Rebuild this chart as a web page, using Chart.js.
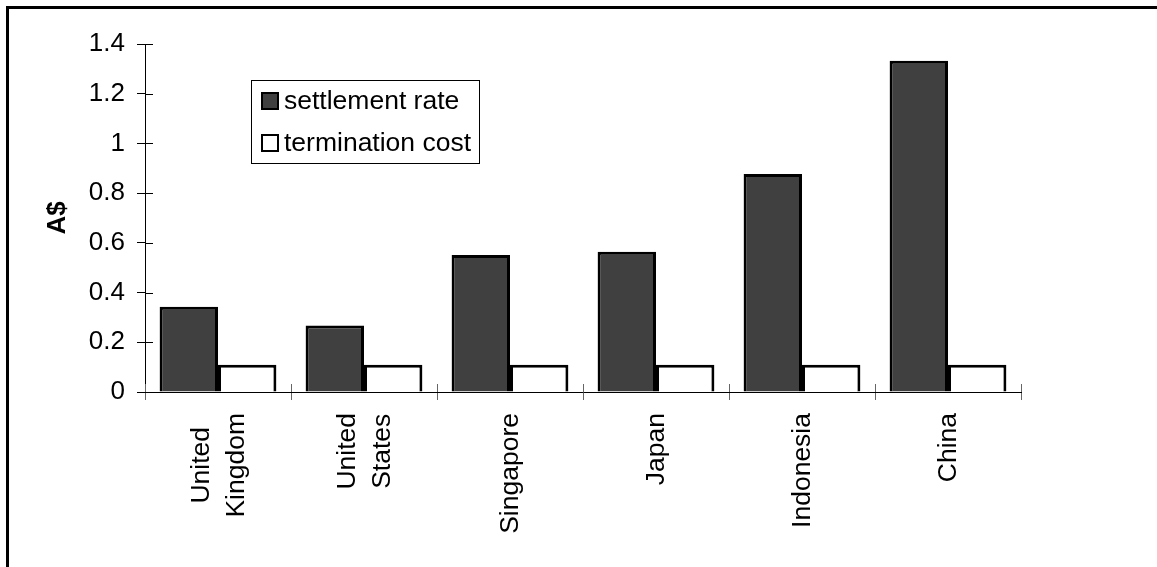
<!DOCTYPE html>
<html>
<head>
<meta charset="utf-8">
<script src="https://cdn.jsdelivr.net/npm/chart.js@4/dist/chart.umd.min.js"></script>
<style>
  body { margin: 0; background: #fff; }
  canvas { display: block; }
</style>
</head>
<body>
<canvas id="rateChart" width="1157" height="567"></canvas>
<script>
// chart data
const countries = [['United', 'Kingdom'], ['United', 'States'], 'Singapore', 'Japan', 'Indonesia', 'China'];
const settlementRate = [0.343, 0.268, 0.551, 0.564, 0.877, 1.333];
const terminationCost = [0.11, 0.11, 0.11, 0.11, 0.11, 0.11];
const seriesNames = ['settlement rate', 'termination cost'];
const yTicks = [0, 0.2, 0.4, 0.6, 0.8, 1, 1.2, 1.4];

const FONT = "'Liberation Sans', Arial, sans-serif";
const LABEL_SIZE = 26.5;

// ticks in the reference cross the axis line, chart.js only draws the outer half
const crossTicks = {
    id: 'crossTicks',
    afterDraw(chart) {
        const ctx = chart.ctx;
        const x = chart.scales.x, y = chart.scales.y;
        ctx.save();
        ctx.lineWidth = 1;
        ctx.strokeStyle = '#000';
        y.ticks.forEach(t => {
            const py = Math.round(y.getPixelForValue(t.value)) + 0.5;
            ctx.beginPath();
            ctx.moveTo(y.right, py);
            ctx.lineTo(y.right + 8, py);
            ctx.stroke();
        });
        ctx.strokeStyle = '#666';
        for (let i = 0; i <= x.ticks.length; i++) {
            const px = Math.round(x.getPixelForValue(i - 0.5)) + 0.5;
            ctx.beginPath();
            ctx.moveTo(px, x.top);
            ctx.lineTo(px, x.top - 8);
            ctx.stroke();
        }
        ctx.restore();
    }
};

// category names: rotated, lines centred on each other (chart.js stacks them unevenly)
const xLabels = {
    id: 'xLabels',
    afterDraw(chart) {
        const ctx = chart.ctx;
        const x = chart.scales.x;
        const lh = 35;
        ctx.save();
        ctx.font = LABEL_SIZE + 'px ' + FONT;
        ctx.fillStyle = '#000';
        ctx.textAlign = 'center';
        ctx.textBaseline = 'middle';
        chart.data.labels.forEach((lab, i) => {
            const lines = Array.isArray(lab) ? lab : [lab];
            const w = Math.max(...lines.map(l => ctx.measureText(l).width));
            const px = x.getPixelForTick(i);
            ctx.save();
            ctx.translate(px, x.top + 21 + w / 2);
            ctx.rotate(-Math.PI / 2);
            lines.forEach((l, j) => {
                ctx.fillText(l, 0, (j - (lines.length - 1) / 2) * lh + 1);
            });
            ctx.restore();
        });
        ctx.restore();
    }
};

// boxed legend sitting inside the plot, plus the outer frame
const boxLegend = {
    id: 'boxLegend',
    afterDraw(chart) {
        const ctx = chart.ctx;
        ctx.save();
        // frame (only top and left edges show in the picture)
        ctx.lineWidth = 3;
        ctx.strokeStyle = '#000';
        ctx.strokeRect(7.5, 7.5, 1160, 570);

        ctx.lineWidth = 1;
        ctx.fillStyle = '#fff';
        ctx.fillRect(251.5, 80.5, 228, 83);
        ctx.strokeRect(251.5, 80.5, 228, 83);
        ctx.font = LABEL_SIZE + 'px ' + FONT;
        ctx.textBaseline = 'middle';
        chart.data.datasets.forEach((ds, i) => {
            const cy = 101 + i * 42;
            ctx.fillStyle = ds.backgroundColor;
            ctx.fillRect(262, cy - 8, 16, 16);
            ctx.lineWidth = 2;
            ctx.strokeStyle = '#000';
            ctx.strokeRect(262, cy - 8, 16, 16);
            ctx.fillStyle = '#000';
            ctx.fillText(ds.label, 284, cy + 1);
        });
        ctx.restore();
    }
};

const ctx = document.getElementById('rateChart').getContext('2d');
new Chart(ctx, {
    type: 'bar',
    data: {
        labels: countries,
        datasets: [{
            label: seriesNames[0],
            data: settlementRate,
            backgroundColor: '#404040',
            borderColor: '#000',
            borderWidth: 3
        }, {
            label: seriesNames[1],
            data: terminationCost,
            backgroundColor: '#ffffff',
            borderColor: '#000',
            borderWidth: 3
        }]
    },
    options: {
        responsive: false,
        animation: false,
        layout: { padding: { top: 44, right: 136, left: 0, bottom: 0 } },
        datasets: { bar: { categoryPercentage: 0.8, barPercentage: 1 } },
        plugins: {
            legend: { display: false },
            tooltip: { enabled: false }
        },
        scales: {
            x: {
                afterFit: s => { s.height = 175; },
                grid: { drawOnChartArea: false, tickLength: 8, color: '#666', offset: true },
                border: { color: '#000', width: 1 },
                ticks: { display: false }
            },
            y: {
                min: 0,
                max: 1.4,
                afterFit: s => { s.width = 145; },
                afterBuildTicks: s => { s.ticks = yTicks.map(v => ({ value: v })); },
                grid: { drawOnChartArea: false, tickLength: 8, color: '#000' },
                border: { color: '#000', width: 1 },
                ticks: {
                    color: '#000',
                    padding: 12,
                    font: { family: FONT, size: 26 },
                    callback: v => String(v)
                },
                title: {
                    display: true,
                    text: 'A$',
                    color: '#000',
                    padding: { top: 42, bottom: 0 },
                    font: { family: FONT, size: 26, weight: 'bold' }
                }
            }
        }
    },
    plugins: [crossTicks, xLabels, boxLegend]
});
</script>
</body>
</html>
